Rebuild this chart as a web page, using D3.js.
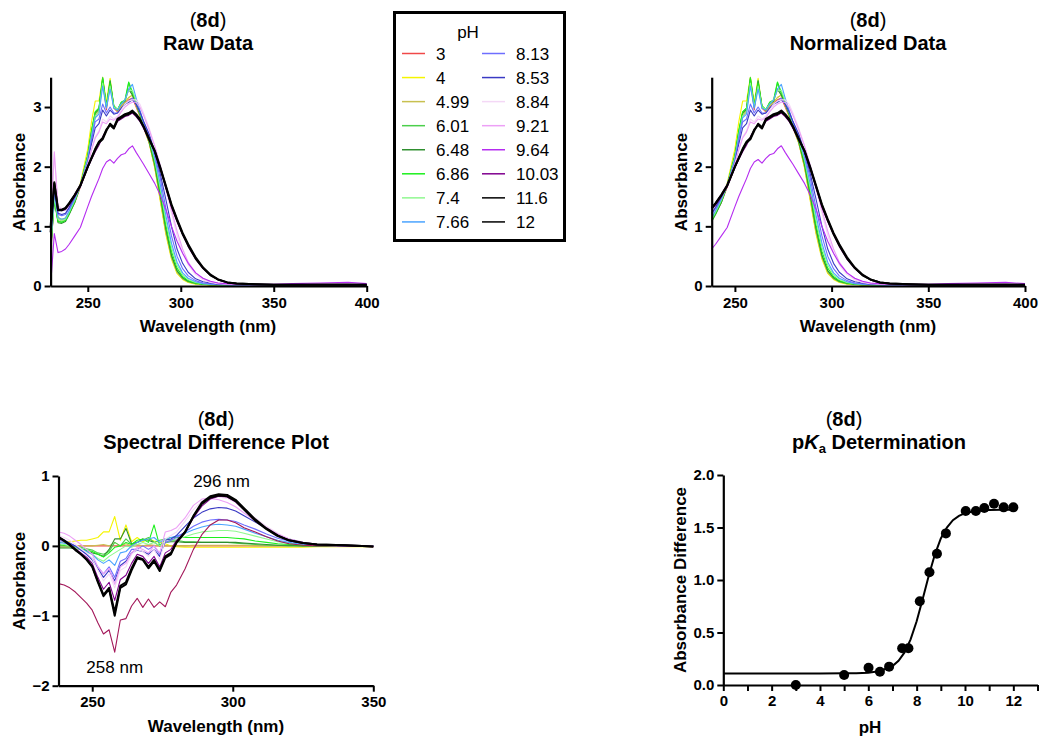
<!DOCTYPE html>
<html>
<head>
<meta charset="utf-8">
<script src="https://cdn.jsdelivr.net/npm/d3@7"></script>
<style>
  body { margin: 0; background: #fff; }
  svg { font-family: Arial, "Liberation Sans", sans-serif; }
  .axis path, .axis line { stroke: #000; }
  .axis path { stroke-width: 2.2; }
  .axis line { stroke-width: 2; }
  .axis text { font-size: 15px; font-weight: bold; fill: #000; font-family: Arial, "Liberation Sans", sans-serif; }
</style>
</head>
<body>
<div id="container"></div>
<script>
let w = 1039;
let h = 736;

// pH series (legend order)
let phLabels = ["3", "4", "4.99", "6.01", "6.48", "6.86", "7.4", "7.66", "8.13", "8.53", "8.84", "9.21", "9.64", "10.03", "11.6", "12"];
let phColors = ["#f04848", "#f5f500", "#c8c050", "#4ccf4c", "#2f8f2f", "#1cf01c", "#90f890", "#4aa4ff",
                "#6e6eff", "#3a3ac4", "#f4d8f6", "#eda0f6", "#b52cf0", "#80008f", "#000000", "#000000"];
let diffColors = phColors.slice(0, 12).concat(["#a3185a", "#80008f", "#000000", "#000000"]);

// wavelengths (nm) for raw / normalized spectra
let wlRaw = [230, 232, 234, 236, 238, 240, 243, 246, 250, 252, 254, 256, 258, 260, 262, 264, 266, 268, 270, 272, 274, 276, 278, 280,
             283, 286, 289, 292, 295, 298, 301, 304, 308, 312, 316, 320, 325, 330, 340, 350, 360, 375, 390, 400];

let abs_3    = [0.5, 1.5, 1.12, 1.1, 1.12, 1.22, 1.4, 1.66, 2.15, 2.5, 2.85, 2.92, 3.45, 2.95, 3.4, 2.98, 2.92, 3.0, 3.06, 3.12, 3.15, 3.0, 2.85, 2.66, 2.4, 2.0, 1.45, 0.9, 0.48, 0.23, 0.12, 0.07, 0.04, 0.03, 0.02, 0.02, 0.01, 0.01, 0.01, 0.01, 0.01, 0.01, 0.01, 0.01];
let abs_4    = [0.9, 1.55, 1.15, 1.12, 1.14, 1.25, 1.45, 1.72, 2.3, 2.75, 3.1, 3.1, 3.5, 3.08, 3.48, 3.0, 2.95, 3.02, 3.08, 3.16, 3.2, 3.04, 2.86, 2.66, 2.4, 1.98, 1.42, 0.86, 0.45, 0.21, 0.11, 0.06, 0.03, 0.02, 0.01, 0.01, 0.01, 0.01, 0.01, 0.01, 0.01, 0.01, 0.01, 0.01];
let abs_499  = [0.7, 1.5, 1.12, 1.1, 1.12, 1.22, 1.42, 1.68, 2.18, 2.55, 2.88, 2.94, 3.48, 3.0, 3.42, 3.0, 2.93, 3.02, 3.08, 3.16, 3.2, 3.02, 2.86, 2.66, 2.4, 2.0, 1.46, 0.9, 0.48, 0.23, 0.12, 0.07, 0.04, 0.03, 0.02, 0.02, 0.01, 0.01, 0.01, 0.01, 0.01, 0.01, 0.01, 0.01];
let abs_601  = [0.6, 1.45, 1.08, 1.07, 1.1, 1.22, 1.42, 1.7, 2.2, 2.6, 2.92, 2.98, 3.5, 3.0, 3.45, 3.02, 2.95, 3.08, 3.1, 3.4, 3.22, 3.05, 2.88, 2.68, 2.42, 2.03, 1.5, 0.94, 0.5, 0.25, 0.13, 0.07, 0.04, 0.03, 0.02, 0.02, 0.01, 0.01, 0.01, 0.01, 0.01, 0.01, 0.01, 0.01];
let abs_648  = [0.6, 1.45, 1.06, 1.05, 1.08, 1.2, 1.4, 1.68, 2.18, 2.58, 2.9, 2.96, 3.46, 3.0, 3.43, 3.0, 2.95, 3.05, 3.1, 3.3, 3.2, 3.05, 2.88, 2.68, 2.42, 2.04, 1.52, 0.96, 0.52, 0.26, 0.14, 0.08, 0.05, 0.03, 0.02, 0.02, 0.01, 0.01, 0.01, 0.01, 0.01, 0.01, 0.01, 0.01];
let abs_686  = [0.55, 1.45, 1.08, 1.07, 1.1, 1.22, 1.42, 1.68, 2.18, 2.6, 2.92, 2.98, 3.48, 3.02, 3.4, 3.02, 2.96, 3.08, 3.12, 3.42, 3.25, 3.08, 2.9, 2.7, 2.46, 2.08, 1.58, 1.02, 0.58, 0.3, 0.16, 0.09, 0.05, 0.03, 0.02, 0.02, 0.01, 0.01, 0.01, 0.01, 0.01, 0.01, 0.01, 0.01];
let abs_74   = [0.6, 1.5, 1.12, 1.1, 1.12, 1.24, 1.44, 1.68, 2.15, 2.52, 2.85, 2.92, 3.4, 3.0, 3.35, 3.0, 2.96, 3.05, 3.12, 3.28, 3.28, 3.1, 2.92, 2.72, 2.48, 2.12, 1.64, 1.1, 0.65, 0.35, 0.19, 0.11, 0.06, 0.04, 0.03, 0.02, 0.02, 0.01, 0.01, 0.01, 0.01, 0.01, 0.01, 0.01];
let abs_766  = [0.7, 1.55, 1.15, 1.12, 1.14, 1.26, 1.46, 1.68, 2.12, 2.5, 2.82, 2.88, 3.35, 2.98, 3.3, 2.98, 2.95, 3.05, 3.12, 3.3, 3.38, 3.15, 2.95, 2.75, 2.5, 2.15, 1.7, 1.18, 0.72, 0.4, 0.22, 0.13, 0.07, 0.04, 0.03, 0.02, 0.02, 0.01, 0.01, 0.01, 0.01, 0.01, 0.01, 0.01];
let abs_813  = [0.8, 1.6, 1.2, 1.18, 1.2, 1.3, 1.48, 1.68, 2.1, 2.45, 2.75, 2.8, 3.05, 2.9, 3.0, 2.9, 2.9, 2.98, 3.05, 3.1, 3.15, 3.05, 2.92, 2.75, 2.52, 2.2, 1.8, 1.3, 0.84, 0.5, 0.29, 0.17, 0.09, 0.05, 0.04, 0.03, 0.02, 0.02, 0.01, 0.01, 0.01, 0.01, 0.01, 0.01];
let abs_853  = [0.9, 1.65, 1.22, 1.2, 1.22, 1.32, 1.5, 1.68, 2.06, 2.38, 2.65, 2.72, 2.95, 2.85, 2.95, 2.88, 2.9, 2.98, 3.05, 3.08, 3.12, 3.05, 2.92, 2.76, 2.55, 2.25, 1.88, 1.45, 1.0, 0.62, 0.38, 0.23, 0.12, 0.07, 0.05, 0.03, 0.02, 0.02, 0.01, 0.01, 0.01, 0.01, 0.01, 0.01];
let abs_884  = [1.0, 2.2, 1.35, 1.3, 1.3, 1.38, 1.54, 1.7, 2.05, 2.3, 2.5, 2.6, 2.8, 2.75, 2.85, 2.8, 2.85, 2.95, 3.05, 3.1, 3.12, 3.12, 3.05, 2.9, 2.65, 2.35, 2.0, 1.62, 1.22, 0.85, 0.55, 0.35, 0.19, 0.1, 0.06, 0.04, 0.03, 0.02, 0.02, 0.02, 0.02, 0.02, 0.02, 0.02];
let abs_921  = [1.0, 2.25, 1.32, 1.28, 1.3, 1.38, 1.54, 1.7, 2.02, 2.28, 2.48, 2.58, 2.75, 2.72, 2.8, 2.78, 2.82, 2.92, 3.0, 3.05, 3.08, 3.08, 3.0, 2.86, 2.62, 2.35, 2.02, 1.66, 1.28, 0.92, 0.62, 0.4, 0.22, 0.12, 0.07, 0.05, 0.03, 0.03, 0.02, 0.02, 0.02, 0.02, 0.02, 0.02];
let abs_964  = [0, 0.88, 0.56, 0.58, 0.62, 0.7, 0.84, 0.98, 1.33, 1.5, 1.65, 1.8, 1.97, 2.08, 2.12, 2.06, 2.14, 2.2, 2.22, 2.3, 2.35, 2.24, 2.14, 2.04, 1.88, 1.72, 1.52, 1.28, 1.0, 0.75, 0.55, 0.38, 0.22, 0.13, 0.08, 0.05, 0.04, 0.03, 0.03, 0.03, 0.04, 0.05, 0.06, 0.04];
let abs_1003 = [0.9, 1.7, 1.28, 1.26, 1.28, 1.36, 1.5, 1.66, 1.98, 2.12, 2.25, 2.36, 2.5, 2.62, 2.7, 2.64, 2.76, 2.8, 2.84, 2.86, 2.9, 2.84, 2.76, 2.64, 2.45, 2.24, 1.96, 1.64, 1.32, 1.08, 0.86, 0.66, 0.45, 0.29, 0.18, 0.11, 0.06, 0.04, 0.03, 0.02, 0.02, 0.03, 0.03, 0.02];
let abs_116  = [0.9, 1.72, 1.27, 1.27, 1.3, 1.38, 1.52, 1.68, 2.0, 2.15, 2.3, 2.42, 2.48, 2.62, 2.7, 2.64, 2.78, 2.82, 2.86, 2.88, 2.92, 2.86, 2.78, 2.67, 2.46, 2.26, 1.97, 1.66, 1.35, 1.1, 0.87, 0.68, 0.46, 0.3, 0.18, 0.11, 0.06, 0.04, 0.03, 0.02, 0.02, 0.02, 0.02, 0.02];
let abs_12   = [1.0, 1.74, 1.28, 1.28, 1.31, 1.39, 1.53, 1.69, 2.0, 2.14, 2.28, 2.4, 2.46, 2.6, 2.72, 2.66, 2.8, 2.84, 2.88, 2.9, 2.94, 2.88, 2.8, 2.68, 2.47, 2.27, 1.99, 1.68, 1.37, 1.12, 0.89, 0.7, 0.48, 0.31, 0.19, 0.11, 0.06, 0.04, 0.03, 0.02, 0.02, 0.02, 0.02, 0.02];
let rawSeries = [abs_3, abs_4, abs_499, abs_601, abs_648, abs_686, abs_74, abs_766, abs_813, abs_853, abs_884, abs_921, abs_964, abs_1003, abs_116, abs_12];

// wavelengths (nm) for the spectral difference plot
let wlDiff = [238, 240, 242, 244, 246, 248, 250, 252, 254, 256, 258, 260, 262, 264, 266, 268, 270, 272, 274, 276, 278, 280,
              283, 286, 289, 292, 295, 298, 301, 304, 308, 312, 316, 320, 325, 330, 340, 350];

let diff_3    = [0, 0, 0, 0, 0, 0, 0, 0, 0, 0, 0, 0, 0, 0, 0, 0, 0, 0, 0, 0, 0, 0, 0, 0, 0, 0, 0, 0, 0, 0, 0, 0, 0, 0, 0, 0, 0, 0];
let diff_4    = [0.05, 0.05, 0.06, 0.07, 0.08, 0.08, 0.1, 0.12, 0.2, 0.2, 0.42, 0.08, 0.3, 0.06, 0.12, 0.06, 0.1, 0.07, 0.05, 0.03, 0.0, -0.01, -0.02, -0.02, -0.02, -0.02, -0.02, -0.02, -0.02, -0.02, -0.02, -0.02, -0.02, -0.02, -0.02, -0.01, -0.01, -0.01];
let diff_499  = [-0.02, -0.02, -0.02, -0.01, 0, 0, 0, 0.01, 0.02, 0, 0.05, 0, 0.03, 0, 0.02, 0, 0.02, 0.01, 0, 0, 0, 0, 0, 0.01, 0.01, 0.01, 0.01, 0.01, 0.01, 0.01, 0, 0, 0, 0, 0, 0, 0, 0];
let diff_601  = [0, 0, 0, 0, -0.02, -0.04, -0.06, -0.1, -0.12, -0.08, 0.05, 0, 0.1, 0.02, 0.05, 0.08, 0.12, 0.05, 0.08, 0.1, 0.08, 0.08, 0.06, 0.06, 0.05, 0.05, 0.05, 0.05, 0.04, 0.03, 0.02, 0.01, 0.01, 0, 0, 0, 0, 0];
let diff_648  = [-0.03, -0.03, -0.03, -0.04, -0.05, -0.07, -0.1, -0.12, -0.15, -0.05, 0.1, 0.1, 0.25, 0.03, 0.05, 0.1, 0.08, 0.05, 0, 0.05, 0.06, 0.06, 0.05, 0.05, 0.05, 0.05, 0.05, 0.05, 0.05, 0.04, 0.03, 0.02, 0.01, 0.01, 0, 0, 0, 0];
let diff_686  = [0.02, 0.01, 0, -0.02, -0.04, -0.06, -0.08, -0.12, -0.16, -0.1, -0.02, 0, 0.05, 0.02, 0.08, 0.1, 0.05, 0.3, 0, 0.1, 0.12, 0.12, 0.12, 0.12, 0.12, 0.12, 0.12, 0.12, 0.11, 0.1, 0.07, 0.05, 0.03, 0.02, 0.01, 0, 0, 0];
let diff_74   = [0.03, 0.02, 0, -0.03, -0.06, -0.09, -0.12, -0.18, -0.22, -0.15, -0.1, -0.05, 0, -0.02, 0.02, 0.05, 0.02, 0.05, 0, 0.05, 0.08, 0.1, 0.13, 0.17, 0.2, 0.21, 0.22, 0.22, 0.21, 0.18, 0.14, 0.1, 0.06, 0.04, 0.02, 0.01, 0, 0];
let diff_766  = [0.05, 0.04, 0.02, 0, -0.04, -0.08, -0.12, -0.2, -0.25, -0.2, -0.28, -0.1, -0.08, 0, 0.05, 0.08, 0.1, 0.12, 0.05, 0.1, 0.12, 0.14, 0.18, 0.23, 0.27, 0.3, 0.31, 0.3, 0.28, 0.24, 0.18, 0.13, 0.08, 0.05, 0.02, 0.01, 0, 0];
let diff_813  = [0.08, 0.06, 0.03, 0, -0.06, -0.12, -0.18, -0.3, -0.4, -0.3, -0.45, -0.22, -0.18, -0.05, -0.05, 0, -0.05, 0, -0.12, 0.05, 0.08, 0.12, 0.2, 0.28, 0.34, 0.37, 0.38, 0.37, 0.35, 0.3, 0.24, 0.17, 0.11, 0.07, 0.03, 0.01, 0, 0];
let diff_853  = [0.1, 0.08, 0.04, 0, -0.06, -0.12, -0.2, -0.32, -0.45, -0.35, -0.5, -0.28, -0.22, -0.1, -0.06, -0.08, -0.12, -0.05, -0.15, 0.08, 0.1, 0.15, 0.28, 0.4, 0.48, 0.53, 0.55, 0.54, 0.5, 0.43, 0.34, 0.25, 0.16, 0.1, 0.05, 0.02, 0, 0];
let diff_884  = [0.15, 0.12, 0.08, 0.02, -0.04, -0.1, -0.18, -0.35, -0.5, -0.4, -0.6, -0.35, -0.3, -0.12, -0.05, -0.08, -0.15, -0.05, -0.2, 0.1, 0.15, 0.2, 0.35, 0.52, 0.64, 0.7, 0.7, 0.68, 0.62, 0.52, 0.4, 0.28, 0.18, 0.1, 0.05, 0.02, 0.01, 0];
let diff_921  = [0.2, 0.18, 0.14, 0.08, 0.02, -0.05, -0.12, -0.3, -0.4, -0.32, -0.55, -0.3, -0.25, -0.1, -0.02, -0.05, -0.1, 0, -0.1, 0.2, 0.22, 0.26, 0.4, 0.58, 0.67, 0.68, 0.66, 0.62, 0.56, 0.47, 0.36, 0.26, 0.17, 0.1, 0.05, 0.02, 0.01, 0];
let diff_964  = [-0.54, -0.56, -0.6, -0.66, -0.74, -0.82, -0.92, -1.1, -1.26, -1.2, -1.52, -1.06, -1.04, -0.86, -0.75, -0.88, -0.76, -0.88, -0.8, -0.87, -0.66, -0.56, -0.33, -0.05, 0.16, 0.3, 0.37, 0.37, 0.33, 0.26, 0.2, 0.13, 0.07, 0.03, 0.01, 0, 0, -0.01];
let diff_1003 = [0.12, 0.08, 0.02, -0.04, -0.1, -0.16, -0.25, -0.45, -0.62, -0.52, -0.78, -0.48, -0.42, -0.25, -0.12, -0.15, -0.25, -0.15, -0.3, -0.1, -0.05, 0.08, 0.2, 0.4, 0.57, 0.67, 0.71, 0.7, 0.63, 0.52, 0.37, 0.25, 0.15, 0.08, 0.04, 0.02, 0.01, -0.01];
let diff_116  = [0.12, 0.07, 0.01, -0.06, -0.12, -0.19, -0.29, -0.5, -0.7, -0.6, -0.95, -0.57, -0.52, -0.32, -0.16, -0.19, -0.3, -0.2, -0.34, -0.15, -0.1, 0.05, 0.19, 0.42, 0.6, 0.69, 0.72, 0.71, 0.64, 0.52, 0.36, 0.24, 0.14, 0.08, 0.04, 0.02, 0.01, -0.01];
let diff_12   = [0.13, 0.08, 0.02, -0.05, -0.12, -0.2, -0.3, -0.52, -0.72, -0.62, -1.0, -0.6, -0.55, -0.35, -0.18, -0.2, -0.32, -0.22, -0.36, -0.17, -0.12, 0.05, 0.2, 0.43, 0.62, 0.71, 0.74, 0.73, 0.66, 0.54, 0.38, 0.25, 0.15, 0.08, 0.04, 0.02, 0.01, -0.01];
let diffSeries = [diff_3, diff_4, diff_499, diff_601, diff_648, diff_686, diff_74, diff_766, diff_813, diff_853, diff_884, diff_921, diff_964, diff_1003, diff_116, diff_12];

// pKa determination: measured points and fitted curve
let pkaPH   = [3, 5, 6.01, 6.48, 6.86, 7.4, 7.66, 8.13, 8.53, 8.84, 9.21, 10.03, 10.45, 10.8, 11.2, 11.6, 12];
let pkaDiff = [0.0, 0.095, 0.165, 0.127, 0.175, 0.35, 0.35, 0.797, 1.073, 1.25, 1.444, 1.657, 1.657, 1.686, 1.727, 1.692, 1.692];
let fitPH   = [0, 1, 2, 3, 4, 5, 5.5, 6, 6.5, 7, 7.25, 7.5, 7.75, 8, 8.25, 8.5, 8.75, 9, 9.25, 9.5, 9.75, 10, 10.5, 11, 11.5, 12];
let fitDiff = [0.11, 0.11, 0.11, 0.11, 0.11, 0.111, 0.112, 0.117, 0.133, 0.18, 0.23, 0.31, 0.435, 0.607, 0.82, 1.04, 1.24, 1.395, 1.5, 1.57, 1.61, 1.637, 1.66, 1.667, 1.669, 1.67];


let svg = d3.select("#container").append("svg")
    .attr("width", w)
    .attr("height", h)
    .style("background-color", "white");

function title(cx, y1, y2, second) {
    let t1 = svg.append("text").attr("x", cx).attr("y", y1)
        .attr("text-anchor", "middle").style("font-size", "20px");
    t1.append("tspan").text("(");
    t1.append("tspan").style("font-weight", "bold").text("8d");
    t1.append("tspan").text(")");
    let t2 = svg.append("text").attr("x", cx).attr("y", y2)
        .attr("text-anchor", "middle").style("font-size", "20px").style("font-weight", "bold");
    second(t2);
}

function axisLabels(xLabel, xx, xy, yLabel, yx, yy) {
    svg.append("text").attr("x", xx).attr("y", xy)
        .attr("text-anchor", "middle")
        .style("font-size", "17px").style("font-weight", "bold")
        .text(xLabel);
    svg.append("text")
        .attr("transform", "translate(" + yx + "," + yy + ") rotate(-90)")
        .attr("text-anchor", "middle")
        .style("font-size", "17px").style("font-weight", "bold")
        .text(yLabel);
}

function drawAxes(x, y, xTicks, yTicks, yFormat, xAxisY) {
    svg.append("g").attr("class", "axis")
        .attr("transform", "translate(0," + xAxisY + ")")
        .call(d3.axisBottom(x).tickValues(xTicks).tickSize(6).tickSizeOuter(0).tickPadding(5));
    svg.append("g").attr("class", "axis")
        .attr("transform", "translate(" + x.range()[0] + ",0)")
        .call(d3.axisLeft(y).tickValues(yTicks).tickSize(6).tickSizeOuter(0).tickPadding(3).tickFormat(yFormat));
}

function drawSpectra(x, y, wl, series, colors, minWl) {
    let lineMaker = d3.line()
        .x(d => x(d[0]))
        .y(d => y(d[1]));
    let g = svg.append("g");
    series.forEach((vals, i) => {
        let pts = wl.map((l, j) => [l, vals[j]]).filter(d => d[0] >= minWl && d[1] !== undefined);
        g.append("path")
            .attr("d", lineMaker(pts))
            .attr("fill", "none")
            .attr("stroke", colors[i])
            .attr("stroke-width", colors[i] === "#000000" ? 2 : 1.1)
            .attr("stroke-linejoin", "round");
    });
}

// ---------- Raw Data ----------
let xRaw = d3.scaleLinear().domain([230, 400]).range([50.6, 366.7]);
let yAbs = d3.scaleLinear().domain([0, 3.5]).range([286, 77.2]);
drawSpectra(xRaw, yAbs, wlRaw, rawSeries, phColors, 230);
drawAxes(xRaw, yAbs, [250, 300, 350, 400], [0, 1, 2, 3], d3.format("d"), 286);
title(208, 27, 50, t => t.text("Raw Data"));
axisLabels("Wavelength (nm)", 208, 332, "Absorbance", 25, 182);

// ---------- Normalized Data ----------
let xNorm = d3.scaleLinear().domain([238, 400]).range([711.7, 1025]);
drawSpectra(xNorm, yAbs, wlRaw, rawSeries, phColors, 238);
drawAxes(xNorm, yAbs, [250, 300, 350, 400], [0, 1, 2, 3], d3.format("d"), 286);
title(868, 27, 50, t => t.text("Normalized Data"));
axisLabels("Wavelength (nm)", 868, 332, "Absorbance", 687, 182);

// ---------- Spectral Difference Plot ----------
let xDiff = d3.scaleLinear().domain([238, 350]).range([58.5, 373.3]);
let yDiff = d3.scaleLinear().domain([-2, 1]).range([685.7, 476]);
drawSpectra(xDiff, yDiff, wlDiff, diffSeries, diffColors, 238);
drawAxes(xDiff, yDiff, [250, 300, 350], [-2, -1, 0, 1], d3.format("d"), 685.7);
title(216, 426, 449, t => t.text("Spectral Difference Plot"));
axisLabels("Wavelength (nm)", 216, 732, "Absorbance", 25, 581);
svg.append("text").attr("x", xDiff(296)).attr("y", 487).attr("text-anchor", "middle")
    .style("font-size", "17px").text("296 nm");
svg.append("text").attr("x", xDiff(258)).attr("y", 673).attr("text-anchor", "middle")
    .style("font-size", "17px").text("258 nm");

// ---------- pKa Determination ----------
let xPH = d3.scaleLinear().domain([0, 13]).range([723.3, 1037.5]);
let yPK = d3.scaleLinear().domain([0, 2]).range([685, 475]);
svg.append("path")
    .attr("d", d3.line().x(d => xPH(d[0])).y(d => yPK(d[1]))(fitPH.map((p, i) => [p, fitDiff[i]])))
    .attr("fill", "none").attr("stroke", "#000").attr("stroke-width", 2);
svg.append("g").attr("class", "axis")
    .attr("transform", "translate(0,685)")
    .call(d3.axisBottom(xPH).tickValues(d3.range(0, 14)).tickSize(6).tickSizeOuter(0).tickPadding(4)
        .tickFormat(d => d % 2 === 0 ? d : ""));
svg.append("g").attr("class", "axis")
    .attr("transform", "translate(723.3,0)")
    .call(d3.axisLeft(yPK).tickValues([0, 0.5, 1, 1.5, 2]).tickSize(6).tickSizeOuter(0).tickPadding(3)
        .tickFormat(d3.format(".1f")));
svg.append("g").selectAll("circle").data(pkaPH).enter()
    .append("circle")
    .attr("cx", (d) => xPH(d))
    .attr("cy", (d, i) => yPK(pkaDiff[i]))
    .attr("r", 5)
    .attr("fill", "#000");
let t1 = svg.append("text").attr("x", 844).attr("y", 426).attr("text-anchor", "middle").style("font-size", "20px");
t1.append("tspan").text("(");
t1.append("tspan").style("font-weight", "bold").text("8d");
t1.append("tspan").text(")");
let t2 = svg.append("text").attr("x", 879).attr("y", 449).attr("text-anchor", "middle")
    .style("font-size", "20px").style("font-weight", "bold");
t2.append("tspan").text("p");
t2.append("tspan").style("font-style", "italic").text("K");
t2.append("tspan").attr("dy", 4).style("font-size", "13px").text("a");
t2.append("tspan").attr("dy", -4).text(" Determination");
axisLabels("pH", 870, 733, "Absorbance Difference", 686, 580);

// ---------- Legend ----------
let legend = svg.append("g");
legend.append("rect")
    .attr("x", 394.5).attr("y", 12.5).attr("width", 170).attr("height", 228)
    .attr("fill", "white").attr("stroke", "#000").attr("stroke-width", 3);
legend.append("text").attr("x", 468).attr("y", 38).attr("text-anchor", "middle")
    .style("font-size", "17px").text("pH");
phLabels.forEach((lab, i) => {
    let col = Math.floor(i / 8);
    let row = i % 8;
    let ly = 53.5 + row * 24.06;
    let sx = col === 0 ? 402 : 482;
    legend.append("line")
        .attr("x1", sx).attr("x2", sx + 23).attr("y1", ly).attr("y2", ly)
        .attr("stroke", phColors[i]).attr("stroke-width", 1.5);
    legend.append("text")
        .attr("x", col === 0 ? 436 : 516).attr("y", ly + 6)
        .style("font-size", "17px").text(lab);
});
</script>
</body>
</html>
